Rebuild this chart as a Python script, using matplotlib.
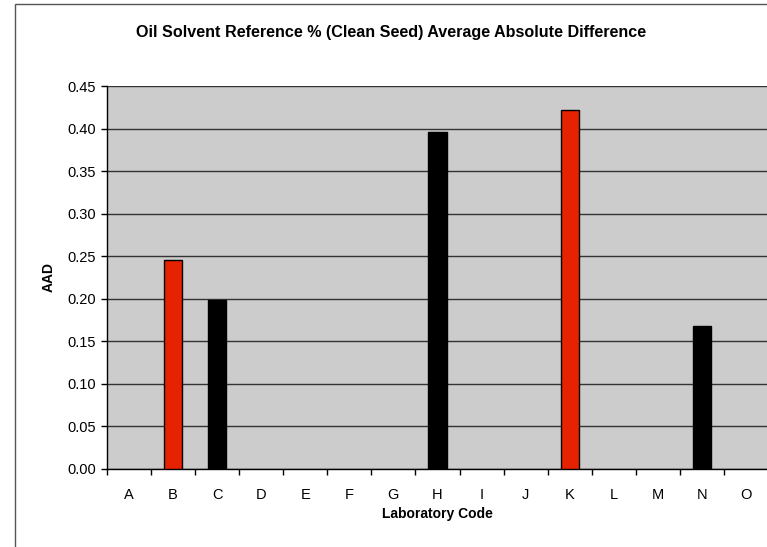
import numpy as np
import matplotlib
matplotlib.use("Agg")
import matplotlib.pyplot as plt
from matplotlib.patches import Rectangle

plt.rcParams["font.family"] = ["Liberation Sans", "DejaVu Sans"]

# data
labs = ["A", "B", "C", "D", "E", "F", "G", "H", "I", "J", "K", "L", "M", "N", "O"]
aad = [0, 0.246, 0.198, 0, 0, 0, 0, 0.396, 0, 0, 0.422, 0, 0, 0.168, 0]
flagged = ["B", "K"]   # labs drawn in red
yticks = [0.00, 0.05, 0.10, 0.15, 0.20, 0.25, 0.30, 0.35, 0.40, 0.45]

fig = plt.figure(figsize=(7.67, 5.47), dpi=100)
W, H = 767, 547

# outer chart frame (clipped on right/bottom like the original)
fig.patches.append(Rectangle((15 / W, -0.1), 1.2, 1 - 4 / H + 0.1,
                             transform=fig.transFigure, fill=False,
                             edgecolor="#555555", linewidth=1.0))

ax = fig.add_axes([107 / W, 1 - 469 / H, 661 / W, (469 - 86) / H])
ax.set_facecolor("#cccccc")

x = np.arange(len(labs))
cols = ["#e62200" if l in flagged else "black" for l in labs]
heights = np.array(aad)
mask = heights > 0
ax.bar(x[mask], heights[mask], width=0.41, color=[c for c, m in zip(cols, mask) if m],
       edgecolor="black", linewidth=1.0, zorder=3)

ax.set_xlim(-0.5, len(labs) - 0.5)
ax.set_ylim(0, 0.45)
ax.set_yticks(yticks)
ax.set_yticklabels([f"{v:.2f}" for v in yticks], fontsize=10.5)
ax.yaxis.grid(True, color="#333333", linewidth=1.0, zorder=1)
ax.set_axisbelow(True)

ax.set_xticks(x)
ax.set_xticklabels(labs, fontsize=10.5)
ax.tick_params(axis="x", which="major", length=0, pad=14)
ax.set_xticks(np.arange(-0.5, len(labs), 1.0), minor=True)
ax.tick_params(axis="x", which="minor", length=4, direction="out", width=1)
ax.tick_params(axis="y", length=4, direction="out", width=1, pad=4)

for s in ["top", "right"]:
    ax.spines[s].set_visible(False)
ax.spines["left"].set_linewidth(1.0)
ax.spines["bottom"].set_linewidth(1.0)

ax.set_xlabel("Laboratory Code", fontsize=10, fontweight="bold", labelpad=3)
ax.set_ylabel("AAD", fontsize=10, fontweight="bold", labelpad=8)

fig.text(391 / W, 1 - 33 / H, "Oil Solvent Reference % (Clean Seed) Average Absolute Difference",
         ha="center", va="center", fontsize=11.6, fontweight="bold")

fig.savefig("out.png", dpi=100)
